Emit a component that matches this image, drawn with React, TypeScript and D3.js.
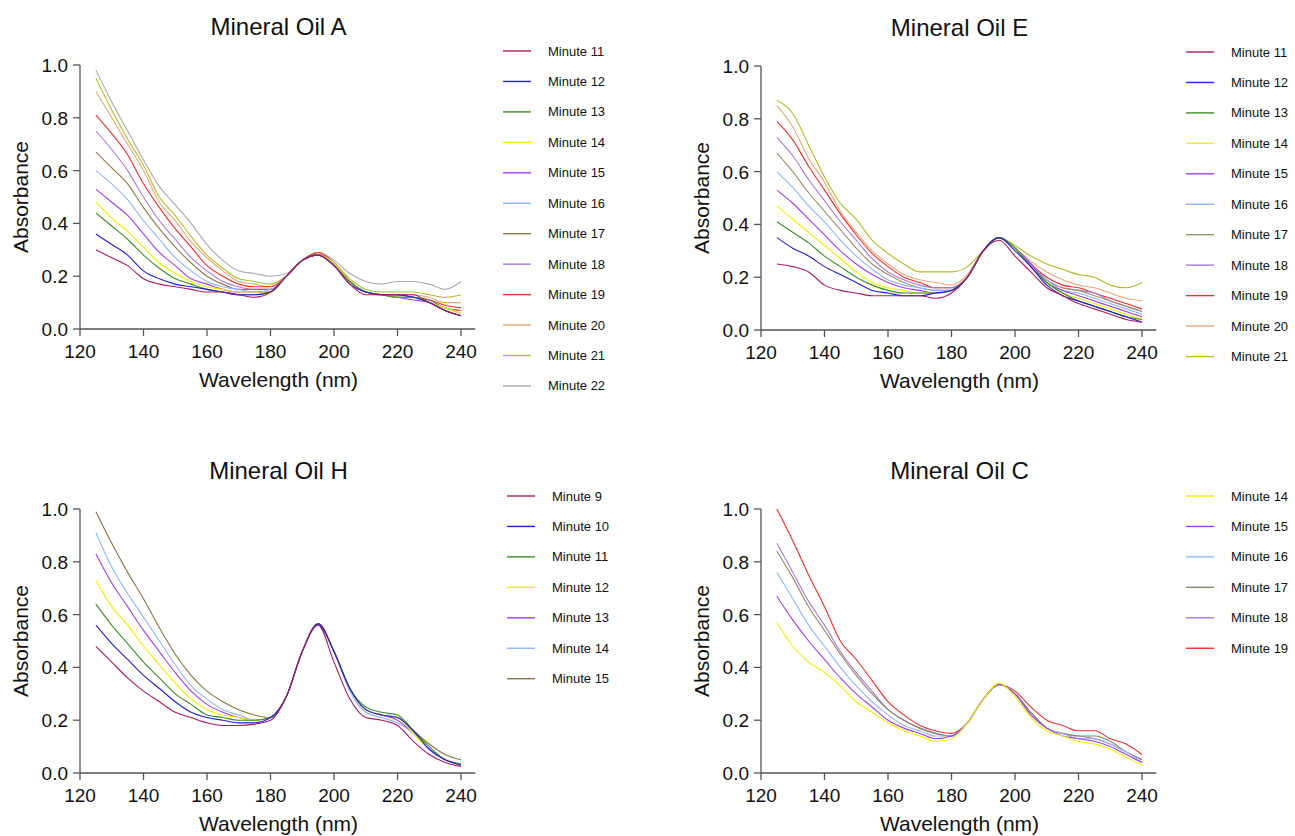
import React from 'react';
import * as d3 from 'd3';

// wavelength grid (nm) shared by every spectrum
const wavelengths = [125, 130, 135, 140, 145, 150, 155, 160, 165, 170, 175, 180, 185, 190, 195, 200, 205, 210, 215, 220, 225, 230, 235, 240];
const xTicks = [120, 140, 160, 180, 200, 220, 240];
const yTicks = [0, 0.2, 0.4, 0.6, 0.8, 1.0];

// Mineral Oil A, minutes 11..22
const oilALabels = ['Minute 11', 'Minute 12', 'Minute 13', 'Minute 14', 'Minute 15', 'Minute 16', 'Minute 17', 'Minute 18', 'Minute 19', 'Minute 20', 'Minute 21', 'Minute 22'];
const oilAValues = [
  [0.30, 0.27, 0.24, 0.19, 0.17, 0.16, 0.15, 0.14, 0.14, 0.13, 0.12, 0.14, 0.20, 0.26, 0.28, 0.24, 0.17, 0.13, 0.13, 0.13, 0.13, 0.10, 0.07, 0.05],
  [0.36, 0.32, 0.28, 0.22, 0.19, 0.17, 0.16, 0.15, 0.14, 0.13, 0.13, 0.14, 0.20, 0.26, 0.28, 0.24, 0.17, 0.14, 0.13, 0.13, 0.12, 0.10, 0.07, 0.05],
  [0.44, 0.39, 0.34, 0.28, 0.23, 0.19, 0.17, 0.15, 0.14, 0.13, 0.13, 0.14, 0.20, 0.26, 0.28, 0.24, 0.18, 0.14, 0.13, 0.12, 0.12, 0.10, 0.07, 0.05],
  [0.48, 0.42, 0.37, 0.31, 0.25, 0.21, 0.18, 0.16, 0.15, 0.14, 0.14, 0.14, 0.20, 0.26, 0.28, 0.25, 0.18, 0.14, 0.13, 0.12, 0.12, 0.10, 0.08, 0.06],
  [0.53, 0.48, 0.43, 0.36, 0.29, 0.24, 0.19, 0.17, 0.15, 0.14, 0.14, 0.14, 0.20, 0.26, 0.28, 0.25, 0.18, 0.14, 0.13, 0.12, 0.11, 0.10, 0.07, 0.05],
  [0.60, 0.55, 0.49, 0.41, 0.34, 0.27, 0.22, 0.18, 0.16, 0.15, 0.14, 0.15, 0.20, 0.26, 0.28, 0.25, 0.18, 0.14, 0.13, 0.12, 0.12, 0.10, 0.08, 0.06],
  [0.67, 0.61, 0.55, 0.46, 0.38, 0.31, 0.25, 0.20, 0.17, 0.15, 0.15, 0.15, 0.20, 0.26, 0.28, 0.25, 0.18, 0.14, 0.13, 0.13, 0.12, 0.11, 0.08, 0.07],
  [0.75, 0.68, 0.60, 0.50, 0.41, 0.34, 0.27, 0.22, 0.18, 0.16, 0.15, 0.15, 0.20, 0.26, 0.28, 0.25, 0.18, 0.14, 0.13, 0.12, 0.12, 0.10, 0.08, 0.06],
  [0.81, 0.74, 0.66, 0.55, 0.46, 0.38, 0.31, 0.24, 0.20, 0.17, 0.16, 0.16, 0.20, 0.26, 0.29, 0.25, 0.18, 0.14, 0.13, 0.13, 0.12, 0.11, 0.09, 0.08],
  [0.90, 0.80, 0.70, 0.60, 0.48, 0.41, 0.33, 0.27, 0.22, 0.18, 0.17, 0.16, 0.20, 0.26, 0.29, 0.25, 0.18, 0.14, 0.13, 0.13, 0.13, 0.12, 0.10, 0.10],
  [0.95, 0.83, 0.72, 0.62, 0.50, 0.43, 0.35, 0.28, 0.23, 0.19, 0.18, 0.17, 0.20, 0.26, 0.29, 0.25, 0.19, 0.15, 0.14, 0.14, 0.14, 0.13, 0.12, 0.13],
  [0.98, 0.86, 0.75, 0.64, 0.54, 0.47, 0.40, 0.32, 0.26, 0.22, 0.21, 0.20, 0.21, 0.26, 0.29, 0.26, 0.21, 0.18, 0.17, 0.18, 0.18, 0.17, 0.15, 0.18],
];
const oilAColors = ['#a81b64', '#1f1fd0', '#3c8c28', '#f0f000', '#a040e8', '#8fb4ff', '#8a7b4a', '#a878d8', '#e83030', '#e8a878', '#b5ba2a', '#a8a8a8'];

// Mineral Oil E, minutes 11..21
const oilELabels = ['Minute 11', 'Minute 12', 'Minute 13', 'Minute 14', 'Minute 15', 'Minute 16', 'Minute 17', 'Minute 18', 'Minute 19', 'Minute 20', 'Minute 21'];
const oilEValues = [
  [0.25, 0.24, 0.22, 0.17, 0.15, 0.14, 0.13, 0.13, 0.13, 0.13, 0.12, 0.14, 0.20, 0.30, 0.34, 0.28, 0.22, 0.16, 0.13, 0.10, 0.08, 0.06, 0.04, 0.03],
  [0.35, 0.31, 0.28, 0.24, 0.21, 0.18, 0.15, 0.14, 0.13, 0.13, 0.14, 0.15, 0.20, 0.30, 0.35, 0.30, 0.24, 0.17, 0.13, 0.11, 0.09, 0.07, 0.05, 0.03],
  [0.41, 0.37, 0.33, 0.28, 0.24, 0.20, 0.17, 0.15, 0.14, 0.14, 0.14, 0.15, 0.20, 0.30, 0.35, 0.31, 0.24, 0.18, 0.14, 0.11, 0.09, 0.07, 0.05, 0.04],
  [0.47, 0.42, 0.37, 0.32, 0.27, 0.22, 0.18, 0.16, 0.15, 0.14, 0.14, 0.15, 0.20, 0.30, 0.35, 0.31, 0.24, 0.18, 0.14, 0.12, 0.10, 0.08, 0.06, 0.04],
  [0.53, 0.48, 0.42, 0.36, 0.30, 0.25, 0.21, 0.18, 0.16, 0.15, 0.14, 0.15, 0.20, 0.30, 0.35, 0.31, 0.25, 0.18, 0.15, 0.13, 0.11, 0.09, 0.07, 0.05],
  [0.60, 0.54, 0.47, 0.41, 0.34, 0.28, 0.23, 0.19, 0.17, 0.16, 0.15, 0.15, 0.20, 0.30, 0.35, 0.31, 0.25, 0.19, 0.15, 0.14, 0.12, 0.10, 0.08, 0.06],
  [0.67, 0.60, 0.52, 0.45, 0.38, 0.31, 0.25, 0.21, 0.18, 0.16, 0.15, 0.15, 0.20, 0.30, 0.35, 0.31, 0.25, 0.19, 0.16, 0.15, 0.13, 0.11, 0.09, 0.07],
  [0.73, 0.66, 0.57, 0.49, 0.41, 0.34, 0.27, 0.22, 0.19, 0.17, 0.16, 0.16, 0.20, 0.30, 0.35, 0.31, 0.25, 0.19, 0.16, 0.15, 0.14, 0.11, 0.09, 0.07],
  [0.79, 0.72, 0.62, 0.53, 0.44, 0.36, 0.29, 0.24, 0.20, 0.18, 0.16, 0.16, 0.20, 0.30, 0.35, 0.31, 0.25, 0.20, 0.17, 0.16, 0.14, 0.12, 0.10, 0.08],
  [0.85, 0.77, 0.65, 0.56, 0.45, 0.37, 0.30, 0.25, 0.21, 0.19, 0.18, 0.17, 0.21, 0.30, 0.35, 0.31, 0.26, 0.22, 0.19, 0.17, 0.16, 0.14, 0.12, 0.11],
  [0.87, 0.82, 0.70, 0.58, 0.48, 0.42, 0.34, 0.29, 0.25, 0.22, 0.22, 0.22, 0.24, 0.30, 0.35, 0.32, 0.28, 0.25, 0.23, 0.21, 0.20, 0.17, 0.16, 0.18],
];
const oilEColors = ['#a81b64', '#1f1fd0', '#3c8c28', '#f0f000', '#a040e8', '#8fb4ff', '#9a9070', '#a878d8', '#e83030', '#e8a878', '#b5ba2a'];

// Mineral Oil H, minutes 9..15
const oilHLabels = ['Minute 9', 'Minute 10', 'Minute 11', 'Minute 12', 'Minute 13', 'Minute 14', 'Minute 15'];
const oilHValues = [
  [0.48, 0.42, 0.36, 0.31, 0.27, 0.23, 0.21, 0.19, 0.18, 0.18, 0.185, 0.20, 0.29, 0.46, 0.56, 0.42, 0.28, 0.21, 0.20, 0.18, 0.12, 0.07, 0.04, 0.025],
  [0.56, 0.49, 0.43, 0.37, 0.32, 0.27, 0.23, 0.21, 0.20, 0.19, 0.19, 0.21, 0.29, 0.46, 0.565, 0.46, 0.32, 0.24, 0.22, 0.21, 0.16, 0.09, 0.05, 0.03],
  [0.64, 0.56, 0.49, 0.42, 0.36, 0.30, 0.26, 0.22, 0.21, 0.20, 0.20, 0.21, 0.29, 0.46, 0.565, 0.46, 0.32, 0.25, 0.23, 0.22, 0.16, 0.10, 0.05, 0.035],
  [0.73, 0.63, 0.56, 0.48, 0.41, 0.34, 0.28, 0.24, 0.22, 0.21, 0.20, 0.21, 0.29, 0.46, 0.565, 0.46, 0.32, 0.24, 0.22, 0.21, 0.15, 0.09, 0.05, 0.03],
  [0.83, 0.72, 0.63, 0.54, 0.46, 0.38, 0.31, 0.26, 0.23, 0.21, 0.20, 0.21, 0.29, 0.46, 0.565, 0.46, 0.32, 0.24, 0.22, 0.20, 0.15, 0.09, 0.05, 0.03],
  [0.91, 0.78, 0.68, 0.59, 0.50, 0.41, 0.33, 0.28, 0.24, 0.22, 0.20, 0.21, 0.29, 0.46, 0.565, 0.46, 0.31, 0.23, 0.21, 0.19, 0.15, 0.09, 0.05, 0.03],
  [0.99, 0.87, 0.76, 0.66, 0.55, 0.45, 0.37, 0.31, 0.27, 0.24, 0.22, 0.21, 0.29, 0.46, 0.565, 0.46, 0.32, 0.24, 0.22, 0.21, 0.16, 0.11, 0.07, 0.05],
];
const oilHColors = ['#a81b64', '#1f1fd0', '#3c8c28', '#f0f000', '#a040e8', '#8fb4ff', '#857548'];

// Mineral Oil C, minutes 14..19
const oilCLabels = ['Minute 14', 'Minute 15', 'Minute 16', 'Minute 17', 'Minute 18', 'Minute 19'];
const oilCValues = [
  [0.57, 0.48, 0.42, 0.38, 0.33, 0.27, 0.23, 0.19, 0.16, 0.14, 0.12, 0.13, 0.19, 0.28, 0.34, 0.29, 0.21, 0.16, 0.14, 0.12, 0.11, 0.09, 0.06, 0.03],
  [0.67, 0.58, 0.50, 0.43, 0.36, 0.30, 0.25, 0.20, 0.17, 0.15, 0.13, 0.14, 0.19, 0.28, 0.335, 0.30, 0.22, 0.17, 0.14, 0.13, 0.12, 0.10, 0.07, 0.04],
  [0.76, 0.66, 0.56, 0.48, 0.40, 0.33, 0.27, 0.22, 0.18, 0.16, 0.14, 0.14, 0.19, 0.28, 0.335, 0.30, 0.22, 0.17, 0.15, 0.13, 0.13, 0.11, 0.08, 0.04],
  [0.84, 0.74, 0.63, 0.54, 0.45, 0.37, 0.30, 0.24, 0.20, 0.17, 0.15, 0.14, 0.19, 0.28, 0.335, 0.30, 0.23, 0.17, 0.15, 0.14, 0.14, 0.12, 0.08, 0.05],
  [0.87, 0.76, 0.65, 0.56, 0.46, 0.38, 0.31, 0.24, 0.20, 0.17, 0.15, 0.14, 0.19, 0.28, 0.335, 0.30, 0.23, 0.17, 0.15, 0.14, 0.13, 0.11, 0.08, 0.05],
  [1.00, 0.88, 0.75, 0.63, 0.50, 0.43, 0.35, 0.27, 0.22, 0.18, 0.16, 0.15, 0.19, 0.28, 0.335, 0.31, 0.25, 0.20, 0.18, 0.16, 0.16, 0.13, 0.11, 0.07],
];
const oilCColors = ['#f0f000', '#a040e8', '#8fb4ff', '#8b8560', '#a878d8', '#e83030'];

const FONT = 'Arial, "Liberation Sans", Helvetica, sans-serif';

type PanelProps = {
  title: string;
  labels: string[];
  values: number[][];
  colors: string[];
  left: number;
  top: number;
  legendX: number;
  legendY: number;
};

function Panel({title, labels, values, colors, left, top, legendX, legendY}: PanelProps) {
  const w = 381;
  const h = 264;
  const x = d3.scaleLinear().domain([120, 240]).range([left, left + w]);
  const y = d3.scaleLinear().domain([0, 1]).range([top + h, top]);
  const line = d3.line<number>()
    .x((_, i) => x(wavelengths[i]))
    .y(d => y(d))
    .curve(d3.curveMonotoneX);
  const axisColor = '#555';
  const cx = left + w / 2;

  // draw from last to first so the earliest minute sits on top
  const order = values.map((_, i) => i).reverse();

  return (
    <g fontFamily={FONT}>
      <text x={cx + 8} y={top - 30} fontSize={24} textAnchor="middle" fill="#111">{title}</text>
      {order.map(i => (
        <path key={i} d={line(values[i]) || ''} fill="none" stroke={colors[i]} strokeWidth={1.1} />
      ))}
      {/* y axis */}
      <line x1={left} x2={left} y1={top} y2={top + h} stroke={axisColor} strokeWidth={1.3} />
      {yTicks.map(t => (
        <g key={t}>
          <line x1={left - 7} x2={left} y1={y(t)} y2={y(t)} stroke={axisColor} strokeWidth={1.3} />
          <text x={left - 12} y={y(t) + 7} fontSize={19} textAnchor="end" fill="#111">{t.toFixed(1)}</text>
        </g>
      ))}
      {/* x axis */}
      <line x1={left} x2={x(244.5)} y1={top + h} y2={top + h} stroke={axisColor} strokeWidth={1.3} />
      {xTicks.map(t => (
        <g key={t}>
          <line x1={x(t)} x2={x(t)} y1={top + h} y2={top + h + 7} stroke={axisColor} strokeWidth={1.3} />
          <text x={x(t)} y={top + h + 29} fontSize={19} textAnchor="middle" fill="#111">{t}</text>
        </g>
      ))}
      <text x={cx + 8} y={top + h + 58} fontSize={21} textAnchor="middle" fill="#111">Wavelength (nm)</text>
      <text transform={`translate(${left - 52},${top + h / 2}) rotate(-90)`} fontSize={21} textAnchor="middle" fill="#111">Absorbance</text>
      {/* legend */}
      {labels.map((lab, i) => (
        <g key={lab} transform={`translate(${legendX},${legendY + i * 30.45})`}>
          <line x1={0} x2={28} y1={0} y2={0} stroke={colors[i]} strokeWidth={1.4} />
          <text x={45} y={4.5} fontSize={13} fill="#111">{lab}</text>
        </g>
      ))}
    </g>
  );
}

export default function App() {
  return (
    <svg width={1295} height={836} style={{display: 'block', position: 'absolute', left: 0, top: 0, background: '#fff'}}>
      <Panel title="Mineral Oil A" labels={oilALabels} values={oilAValues} colors={oilAColors}
             left={80} top={65} legendX={503} legendY={51} />
      <Panel title="Mineral Oil E" labels={oilELabels} values={oilEValues} colors={oilEColors}
             left={761} top={66} legendX={1186} legendY={52} />
      <Panel title="Mineral Oil H" labels={oilHLabels} values={oilHValues} colors={oilHColors}
             left={80} top={509} legendX={507} legendY={496} />
      <Panel title="Mineral Oil C" labels={oilCLabels} values={oilCValues} colors={oilCColors}
             left={761} top={509} legendX={1186} legendY={496} />
    </svg>
  );
}
